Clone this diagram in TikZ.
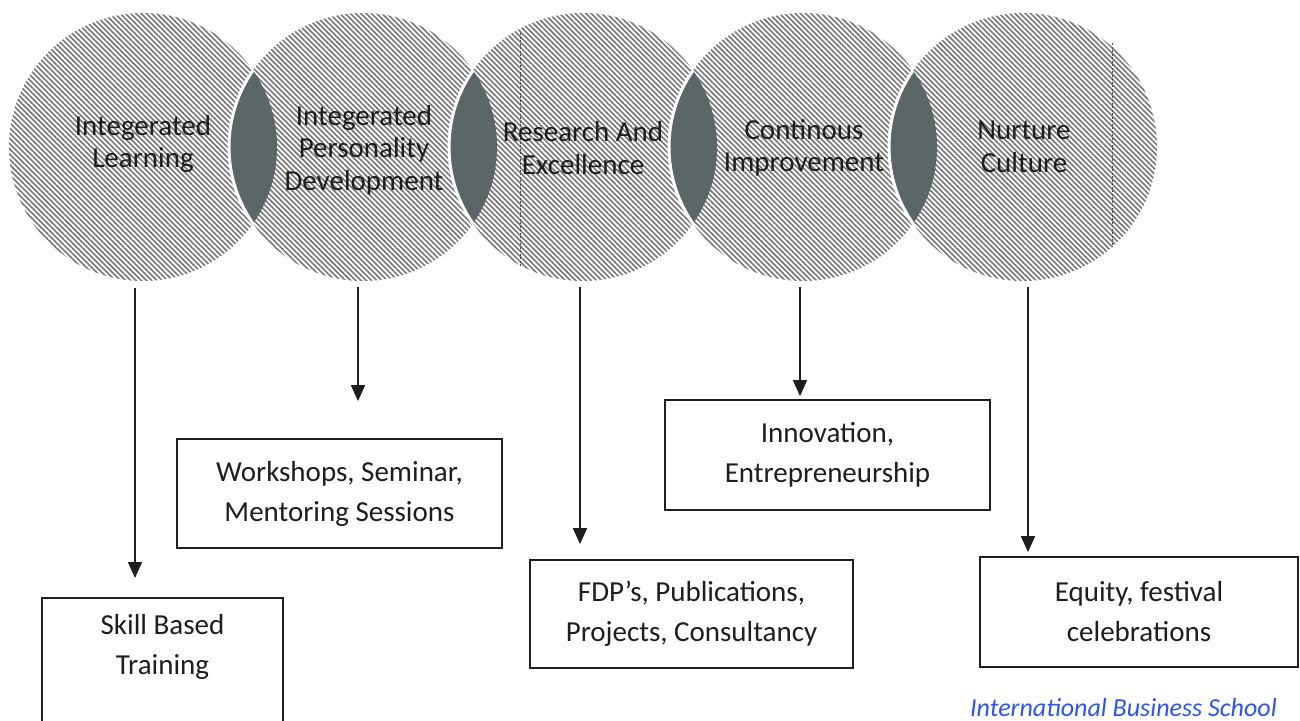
\documentclass[tikz,border=0pt]{standalone}
\usepackage{fontspec}
\setmainfont{Carlito}
\usetikzlibrary{arrows.meta,patterns.meta}
\definecolor{hatchgray}{RGB}{118,118,118}
\definecolor{lensgray}{RGB}{92,102,104}
\definecolor{inkblack}{RGB}{30,30,30}
\definecolor{markblue}{RGB}{45,85,235}
\begin{document}
\begin{tikzpicture}[x=1pt,y=-1pt,
  disc/.style={circle,minimum size=268pt,inner sep=0pt,
    pattern={Lines[angle=-45,distance=3.7pt,line width=1.6pt]},pattern color=hatchgray},
  disctext/.style={align=center,inner sep=0pt,text=inkblack,
    font=\fontsize{29}{32.5}\selectfont},
  box/.style={draw=inkblack,line width=1.8pt,rectangle,inner sep=0pt,align=center,
    text=inkblack,font=\fontsize{29}{40}\selectfont},
  boxtext/.style={align=center,inner sep=0pt,text=inkblack,
    font=\fontsize{29}{40}\selectfont},
  conn/.style={draw=inkblack,line width=1.6pt,-{Triangle[length=16pt,width=14pt]}},
  seam/.style={white,line width=3pt},
  scanline/.style={draw=inkblack!80,line width=0.9pt,dash pattern=on 2pt off 1.5pt},
  wm/.style={inner sep=0pt,text=markblue,font=\fontsize{26}{28}\selectfont\itshape}]
\useasboundingbox (0,0) rectangle (1300,720);
\clip (0,0) rectangle (1300,720);
\fill[white] (0,0) rectangle (1300,720);

% five hatched discs in a row
\node[disc] (c1) at (143,147) {};
\node[disc] (c2) at (363,147) {};
\node[disc] (c3) at (583,147) {};
\node[disc] (c4) at (803,147) {};
\node[disc] (c5) at (1023,147) {};

% dark lens where neighbouring discs overlap, with a white seam on its left arc
\foreach \a/\b in {c1/c2,c2/c3,c3/c4,c4/c5}{
  \begin{scope}
    \clip (\a) circle[radius=134];
    \fill[lensgray] (\b) circle[radius=134];
    \draw[seam] (\b) circle[radius=134];
  \end{scope}
}

% thin dotted rules across two of the discs
\draw[scanline] (520,33) -- (520,267);
\draw[scanline] (1112,43) -- (1112,247);

% disc labels
\node[disctext] (t1) at (143,144) {Integerated\\Learning};
\node[disctext] (t2) at (364,150) {Integerated\\Personality\\Development};
\node[disctext] (t3) at (583,148) {Research And\\Excellence};
\node[disctext] (t4) at (804,148) {Continous\\Improvement};
\node[disctext] (t5) at (1024,147) {Nurture\\Culture};

% outcome boxes
\node[box,minimum width=241pt,minimum height=170pt,anchor=north] (b1) at (162.5,597) {};
\node[boxtext] (b1t) at (162.5,647) {Skill Based\\Training};
\node[box,minimum width=325pt,minimum height=109pt] (b2) at (339.5,493.5) {Workshops, Seminar,\\Mentoring Sessions};
\node[box,minimum width=323pt,minimum height=108pt] (b3) at (691.5,614) {FDP’s, Publications,\\Projects, Consultancy};
\node[box,minimum width=325pt,minimum height=110pt] (b4) at (827.5,455) {Innovation,\\Entrepreneurship};
\node[box,minimum width=318pt,minimum height=110pt] (b5) at (1139,612) {Equity, festival\\celebrations};

% connectors from each disc down to its box
\draw[conn,shorten <=6pt,shorten >=19pt] ([xshift=-8pt]c1.south) -- ([xshift=-8pt]c1.south |- b1.north);
\draw[conn,shorten <=6pt,shorten >=37pt] ([xshift=-5pt]c2.south) -- ([xshift=-5pt]c2.south |- b2.north);
\draw[conn,shorten <=6pt,shorten >=15pt] ([xshift=-3pt]c3.south) -- ([xshift=-3pt]c3.south |- b3.north);
\draw[conn,shorten <=6pt,shorten >=3pt] ([xshift=-3pt]c4.south) -- ([xshift=-3pt]c4.south |- b4.north);
\draw[conn,shorten <=6pt,shorten >=4pt] ([xshift=5pt]c5.south) -- ([xshift=5pt]c5.south |- b5.north);

% footer line along the lower edge
\node[wm,anchor=base east] (foot) at (1277,716) {International Business School};
\end{tikzpicture}
\end{document}
